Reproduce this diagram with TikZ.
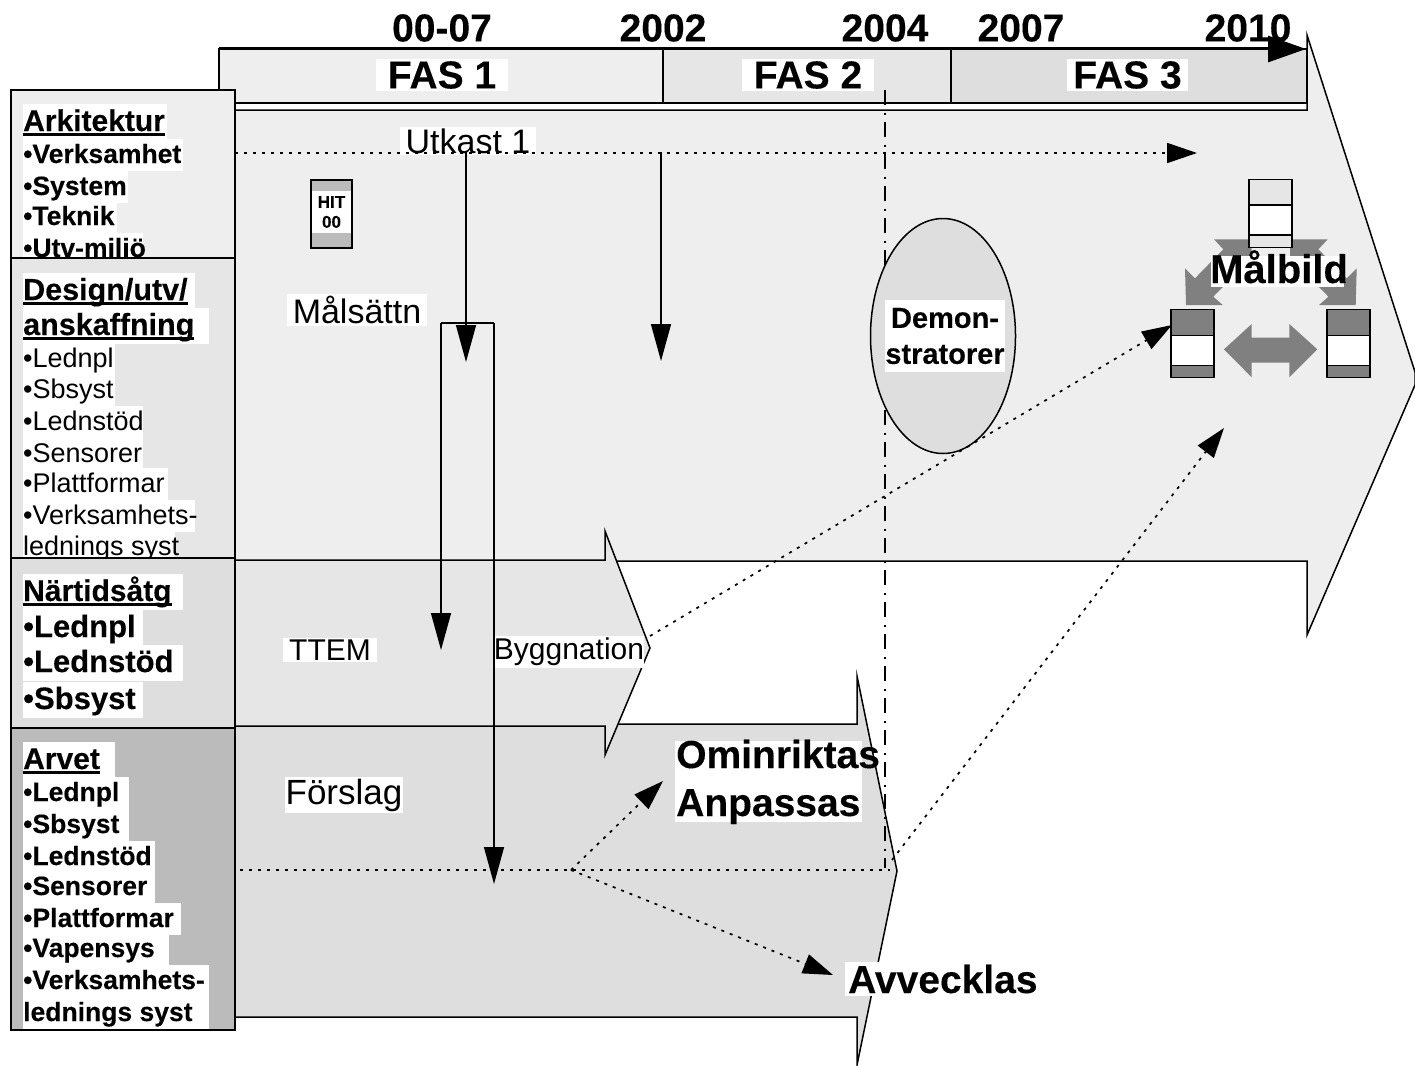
\documentclass[tikz,border=0pt]{standalone}
\usepackage{fontspec}
\setmainfont[BoldFeatures={FakeBold=0.25}]{Liberation Sans}
\definecolor{fasone}{RGB}{238,238,238}
\definecolor{fastwo}{RGB}{230,230,230}
\definecolor{fasthree}{RGB}{222,222,222}
\definecolor{arvgray}{RGB}{187,187,187}
\definecolor{iconfill}{RGB}{128,128,128}
\usetikzlibrary{arrows.meta,positioning,shapes.geometric,calc}
\newcommand{\sideline}[2]{\makebox[#1pt][l]{#2}}
\newcommand{\headline}[1]{\setbox0\hbox{#1}\leavevmode\rlap{\rule[-4.5pt]{\wd0}{3pt}}\box0}
\tikzset{
  sidetxt/.style={anchor=base west,fill=white,inner sep=0pt,text height=24pt,text depth=8pt},
  sidehead/.style={anchor=base west,fill=white,inner sep=0pt,text height=27pt,text depth=9pt},
  flow/.style={draw=black,line width=1.5pt},
  thinarrow/.style={line width=1.4pt,-{Triangle[length=37pt,width=20pt]}},
  dotarrow/.style={line width=1.7pt,dash pattern=on 3pt off 6pt,-{Triangle[length=30pt,width=20pt]}},
  dotline/.style={line width=1.7pt,dash pattern=on 3pt off 6pt},
  yearlabel/.style={font=\fontsize{39}{39}\selectfont\bfseries,inner sep=0pt},
  faslabel/.style={font=\fontsize{39}{39}\selectfont\bfseries,fill=white,inner ysep=2pt,inner xsep=12pt},
  midlabel/.style={fill=white,inner xsep=6pt,inner ysep=2pt},
  biglabel/.style={font=\fontsize{39}{39}\selectfont\bfseries,inner sep=0pt,anchor=base west}
}
\begin{document}
\begin{tikzpicture}[x=1pt,y=-1pt]
  \useasboundingbox (0,0) rectangle (1415,1065);
  % header
  \draw[flow,fill=fasone] (219,49) rectangle (663,103);
  \draw[flow,fill=fastwo] (663,49) rectangle (951,103);
  \draw[flow,fill=fasthree] (951,49) rectangle (1307,103);
  % block arrows
  \draw[flow,fill=fasone] (235,110) -- (1307,110) -- (1307,35) -- (1415,372) -- (1415,385) -- (1307,635) -- (1307,561) -- (235,561) -- cycle;
  \draw[flow,fill=fasthree] (235,724) -- (857,724) -- (857,676) -- (897,871) -- (857,1065) -- (857,1017) -- (235,1017) -- cycle;
  \draw[flow,fill=fastwo] (235,560) -- (605,560) -- (605,531) -- (650,648) -- (605,755) -- (605,726) -- (235,726) -- cycle;
  % side panels
  \draw[flow,fill=fasone] (11,90) rectangle (235,258);
  \foreach \i/\y/\w/\txt in {1/163/160/Verksamhet,2/195/105/System,3/225/94/Teknik,4/257/120/Utv-miljö}{
    \node[sidetxt,font=\fontsize{26.5}{26.5}\selectfont\bfseries] (ark\i) at (23,\y) {\sideline{\w}{•\txt}};
  }
  \node[sidehead,font=\fontsize{30}{30}\selectfont\bfseries] (arkhead) at (23,131) {\sideline{144}{\headline{Arkitektur}}};
  \draw[flow,fill=fastwo] (11,258) rectangle (235,558);
  \foreach \i/\y/\w/\txt in {1/367/92/•Lednpl,2/398/92/•Sbsyst,3/430/120/•Lednstöd,4/462/120/•Sensorer,5/492/145/•Plattformar,6/524/172/•Verksamhets-,7/555/152/lednings syst}{
    \node[sidetxt,font=\fontsize{27}{27}\selectfont] (des\i) at (23,\y) {\sideline{\w}{\txt}};
  }
  \node[sidehead,font=\fontsize{30.5}{30.5}\selectfont\bfseries] (deshead) at (23,300) {\sideline{172}{\headline{Design/utv/}}};
  \node[sidehead,font=\fontsize{30.5}{30.5}\selectfont\bfseries] (deshead2) at (23,335) {\sideline{186}{\headline{anskaffning}}};
  \draw[flow,fill=fasthree] (11,558) rectangle (235,728);
  \foreach \i/\y/\w/\txt in {1/637/120/Lednpl,2/672/160/Lednstöd,3/709/120/Sbsyst}{
    \node[sidehead,font=\fontsize{31}{31}\selectfont\bfseries] (nar\i) at (23,\y) {\sideline{\w}{•\txt}};
  }
  \node[sidehead,font=\fontsize{30}{30}\selectfont\bfseries] (narhead) at (23,601) {\sideline{160}{\headline{Närtidsåtg}}};
  \draw[flow,fill=arvgray] (11,728) rectangle (235,1030);
  \foreach \i/\y/\w/\txt in {1/801/106/•Lednpl,2/833/106/•Sbsyst,3/865/132/•Lednstöd,4/895/132/•Sensorer,5/927/158/•Plattformar,6/957/146/•Vapensys,7/989/186/•Verksamhets-,8/1021/186/lednings syst}{
    \node[sidetxt,font=\fontsize{26.5}{26.5}\selectfont\bfseries] (arv\i) at (23,\y) {\sideline{\w}{\txt}};
  }
  \node[sidehead,font=\fontsize{30}{30}\selectfont\bfseries] (arvhead) at (23,769) {\sideline{92}{\headline{Arvet}}};
  \draw[line width=2.4pt] (11,728) rectangle (235,1030);
  % years and phases
  \foreach \n/\x/\txt in {a/442/00-07,b/663/2002,c/885/2004,d/1021/2007,e/1248/2010}{
    \node[yearlabel] (year\n) at (\x,28) {\txt};
  }
  \node[faslabel] (fas1) at (442,75) {FAS 1};
  \node[faslabel] (fas2) at (808,75) {FAS 2};
  \node[faslabel,inner xsep=6pt] (fas3) at (1127.5,75) {FAS 3};
  % labels in the bands
  \node[midlabel,font=\fontsize{34}{34}\selectfont] (utkast) at (468,141) {Utkast 1};
  \node[midlabel,font=\fontsize{34}{34}\selectfont] (malsattn) at (357,310) {Målsättn};
  \node[midlabel,font=\fontsize{30}{30}\selectfont] (ttem) at (330,650) {TTEM};
  \node[midlabel,font=\fontsize{30}{30}\selectfont,inner xsep=0pt] (byggnation) at (569,652) {Byggnation};
  \node[midlabel,font=\fontsize{35}{35}\selectfont,inner xsep=1pt] (forslag) at (344,795) {Förslag};
  \coordinate (tstart) at (219,49);
  \coordinate (tend) at (1306,49);
  \coordinate (archL) at (235,153);
  \coordinate (archR) at (1197,153);
  \coordinate (utkA) at (466,152);
  \coordinate (utkAe) at (466,362);
  \coordinate (utkB) at (661,152);
  \coordinate (utkBe) at (661,361);
  \coordinate (brkL) at (441,323);
  \coordinate (brkLe) at (441,650);
  \coordinate (brkR) at (494,323);
  \coordinate (brkRe) at (494,884);
  \coordinate (arvL) at (240,870);
  \coordinate (fork) at (571,870);
  \coordinate (arvR) at (890,870);
  \coordinate (dashtop) at (885,90);
  \coordinate (dashend) at (885,868);
  \coordinate (byggtip) at (650,636);
  \coordinate (lowtip) at (892,860);
  \coordinate (omin) at (663,781);
  \coordinate (avv) at (833,975);
  \coordinate (iconL) at (1172,325);
  \coordinate (iconU) at (1224,428);
  % time line
  \draw[line width=3pt,-{Triangle[length=38pt,width=26pt]}] (tstart) -- (tend);
  \draw[line width=1.4pt,dash pattern=on 15pt off 7.5pt on 2pt off 7.5pt] (dashtop) -- (dashend);
  % demonstrators
  \node[ellipse,flow,fill=fasthree,minimum width=145pt,minimum height=235pt,inner sep=0pt] (demo) at (943,336) {};
  \node[fill=white,font=\fontsize{29}{36}\selectfont\bfseries,align=center,inner sep=0pt,minimum width=120pt,minimum height=72pt] (demotxt) at (945,336) {Demon-\\stratorer};
  % arrows
  \draw[dotarrow] (archL) -- (archR);
  \draw[thinarrow] (utkA) -- (utkAe);
  \draw[thinarrow] (utkB) -- (utkBe);
  \draw[line width=1.4pt] (brkR) -- (brkL);
  \draw[thinarrow] (brkL) -- (brkLe);
  \draw[thinarrow] (brkR) -- (brkRe);
  \draw[dotline] (arvL) -- (arvR);
  \draw[dotarrow] (fork) -- (omin);
  \draw[dotarrow] (fork) -- (avv);
  \draw[dotarrow] (byggtip) -- (iconL);
  \draw[dotarrow] (lowtip) -- (iconU);
  % hit box
  \node[draw=black,line width=1.4pt,fill=arvgray,minimum width=41pt,minimum height=68pt,inner sep=0pt] (hitbox) at (331.5,214) {};
  \node[fill=white,font=\fontsize{17}{20}\selectfont\bfseries,align=center,minimum width=39pt,minimum height=42pt,inner sep=0pt] (hit) at (331.5,212) {HIT\\00};
  % target picture
  \fill[iconfill] (1186,305) -- (1222.7,305) -- (1213.3,296.7) -- (1241.7,267.7) -- (1251.7,276.7) -- (1251.7,239.3) -- (1214,239.3) -- (1223.3,249.3) -- (1195,278.3) -- (1185,268.3) -- cycle;
  \begin{scope}[xshift=2541.7pt,xscale=-1]
    \fill[iconfill] (1186,305) -- (1222.7,305) -- (1213.3,296.7) -- (1241.7,267.7) -- (1251.7,276.7) -- (1251.7,239.3) -- (1214,239.3) -- (1223.3,249.3) -- (1195,278.3) -- (1185,268.3) -- cycle;
  \end{scope}
  \foreach \n/\x/\y/\col in {t/1270.5/213.5/fastwo,l/1192.5/343.7/iconfill,r/1348.5/343.7/iconfill}{
    \node[draw=black,line width=1.4pt,fill=\col,minimum width=43pt,minimum height=68pt,inner sep=0pt] (stack\n) at (\x,\y) {};
    \node[draw=black,line width=1.4pt,fill=white,minimum width=43pt,minimum height=30pt,inner sep=0pt] (mid\n) at (\x,\y+6.5) {};
  }
  \fill[iconfill] (1224,349.3) -- (1251.7,324) -- (1251.7,337.7) -- (1289.3,337.7) -- (1289.3,324) -- (1317.3,349.3) -- (1289.3,377.3) -- (1289.3,362.7) -- (1251.7,362.7) -- (1251.7,377.3) -- cycle;
  \node[fill=white,minimum width=133pt,minimum height=31.5pt,inner sep=0pt] (malbildbg) at (1277.5,271.5) {};
  \node[font=\fontsize{40}{40}\selectfont\bfseries,inner sep=0pt,anchor=base] (malbild) at (1279,283) {Målbild};
  % results
  \node[fill=white,minimum width=187pt,minimum height=81pt,inner sep=0pt] (resultbg) at (768.5,781.5) {};
  \node[biglabel] (ominr) at (676,768) {Ominriktas};
  \node[biglabel] (anpas) at (676,816) {Anpassas};
  \node[biglabel,fill=white,inner xsep=3pt,inner ysep=3pt] (avvek) at (845,993) {Avvecklas};
\end{tikzpicture}
\end{document}
